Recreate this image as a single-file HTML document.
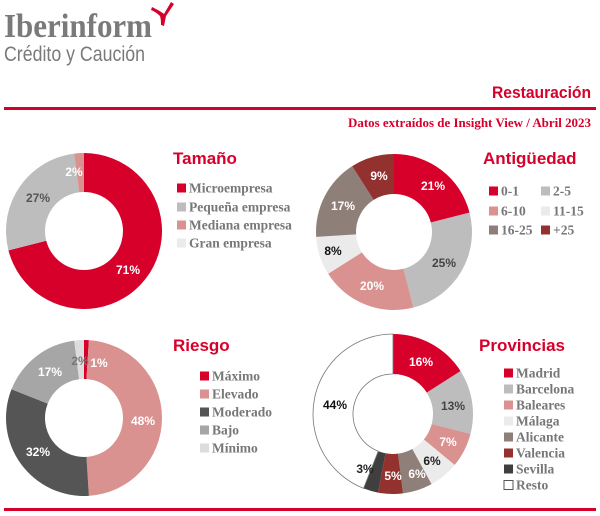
<!DOCTYPE html>
<html><head><meta charset="utf-8"><style>
html,body{margin:0;padding:0;background:#fff;}
svg{display:block}
.t{font-family:"Liberation Sans",sans-serif;font-weight:bold;fill:#d7002a;font-size:17px;}
.lg{font-family:"Liberation Serif",serif;font-weight:bold;fill:#777;font-size:13.5px;}
.pl{font-family:"Liberation Sans",sans-serif;font-weight:bold;font-size:12px;text-anchor:middle;dominant-baseline:central;}
</style></head><body>
<svg id="s" width="600" height="516" viewBox="0 0 600 516" xmlns="http://www.w3.org/2000/svg">
<text x="4" y="37" font-family="Liberation Serif,serif" font-weight="bold" font-size="34" fill="#7a7a7a" textLength="148" lengthAdjust="spacingAndGlyphs">Iberinform</text>
<text x="4" y="61" font-family="Liberation Sans,sans-serif" font-size="21" fill="#7a7a7a" textLength="141" lengthAdjust="spacingAndGlyphs">Crédito y Caución</text>
<path d="M152,7 Q162,12 164,14 L171,2 L174,4 L166,16 Q165,21 164,26 L161,25 Q161,19 160,16 Q156,12 151,10 Z" fill="#d7002a"/>
<text x="591" y="98" text-anchor="end" class="t" font-size="16" textLength="99" lengthAdjust="spacingAndGlyphs">Restauración</text>
<rect x="4" y="107" width="592" height="3" fill="#d7002a"/>
<text x="591" y="127" text-anchor="end" font-family="Liberation Serif,serif" font-weight="bold" font-size="13" fill="#d7002a" textLength="243" lengthAdjust="spacingAndGlyphs">Datos extraídos de Insight View / Abril 2023</text>
<rect x="4" y="508" width="592" height="3" fill="#d7002a"/>
<g id="g"></g>
<text x="173" y="164" class="t">Tamaño</text>
<text x="483" y="164" class="t">Antigüedad</text>
<text x="173" y="351" class="t">Riesgo</text>
<text x="479" y="351" class="t">Provincias</text>
</svg>
<script>
var g=document.getElementById('g');var NS='http://www.w3.org/2000/svg';
function el(t,a,txt){var e=document.createElementNS(NS,t);for(var k in a)e.setAttribute(k,a[k]);if(txt)e.textContent=txt;g.appendChild(e);return e;}
function donut(cx,cy,R,r,data){var a=0;data.forEach(function(d){var a0=a/100*2*Math.PI,a1=(a+d[0])/100*2*Math.PI;a+=d[0];
var p=function(rad,an){return [cx+rad*Math.sin(an),cy-rad*Math.cos(an)]};var l=(a1-a0)>Math.PI?1:0;
var o0=p(R,a0),o1=p(R,a1),i1=p(r,a1),i0=p(r,a0);
el('path',{d:'M'+o0+' A'+R+','+R+' 0 '+l+' 1 '+o1+' L'+i1+' A'+r+','+r+' 0 '+l+' 0 '+i0+' Z',fill:d[1],stroke:d[2]||'none','stroke-width':d[2]?0.8:0});});}
function labels(L){L.forEach(function(l){el('text',{x:l[0],y:l[1],'class':'pl',fill:l[3]},l[2]);});}
function legend(items){items.forEach(function(i){el('rect',{x:i[0],y:i[1]-4.5,width:9,height:9,fill:i[3],stroke:i[4]||'none','stroke-width':1});el('text',{x:i[0]+12,y:i[1]+4.5,'class':'lg'},i[2]);});}
donut(84,231,78,39,[[71,'#d7002a'],[27,'#bdbdbd'],[2,'#d99290']]);
labels([[128,270,'71%','#fff'],[38,198,'27%','#555'],[74,172,'2%','#fff']]);
legend([[177,188,'Microempresa','#d7002a'],[177,207,'Pequeña empresa','#bdbdbd'],[177,225,'Mediana empresa','#d99290'],[177,243,'Gran empresa','#ebebeb']]);
donut(394,232,78,38,[[21,'#d7002a'],[25,'#bdbdbd'],[20,'#d99290'],[8,'#ebebeb'],[17,'#8f7f79'],[9,'#93312f']]);
labels([[433,186,'21%','#fff'],[444,263,'25%','#444'],[372,286,'20%','#fff'],[333,251,'8%','#111'],[343,206,'17%','#fff'],[379,176,'9%','#fff']]);
legend([[489,191,'0-1','#d7002a'],[541,191,'2-5','#bdbdbd'],[489,211,'6-10','#d99290'],[541,211,'11-15','#ebebeb'],[489,230,'16-25','#8f7f79'],[541,230,'+25','#93312f']]);
donut(84,418,78,39,[[1,'#d7002a'],[48,'#d99290'],[32,'#555555'],[17,'#a6a6a6'],[2,'#dddddd']]);
labels([[99,363,'1%','#fff'],[80,361,'2%','#777'],[50,372,'17%','#fff'],[143,421,'48%','#fff'],[38,452,'32%','#fff']]);
legend([[200,376,'Máximo','#d7002a'],[200,394,'Elevado','#d99290'],[200,412,'Moderado','#555'],[200,430,'Bajo','#a6a6a6'],[200,448,'Mínimo','#ddd']]);
donut(393,414,80,40,[[16,'#d7002a'],[13,'#bdbdbd'],[7,'#d99290'],[6,'#ebebeb'],[6,'#8f7f79'],[5,'#93312f'],[3,'#3f3f3f'],[44,'#ffffff','#777']]);
labels([[421,362,'16%','#fff'],[453,406,'13%','#444'],[448,442,'7%','#fff'],[432,461,'6%','#222'],[417,474,'6%','#fff'],[393,476,'5%','#fff'],[365,469,'3%','#222'],[335,405,'44%','#111']]);
legend([[504,373,'Madrid','#d7002a'],[504,389,'Barcelona','#bdbdbd'],[504,405,'Baleares','#d99290'],[504,421,'Málaga','#ebebeb'],[504,437,'Alicante','#8f7f79'],[504,453,'Valencia','#93312f'],[504,469,'Sevilla','#3f3f3f'],[504,485,'Resto','#fff','#555']]);
</script>
</body></html>
